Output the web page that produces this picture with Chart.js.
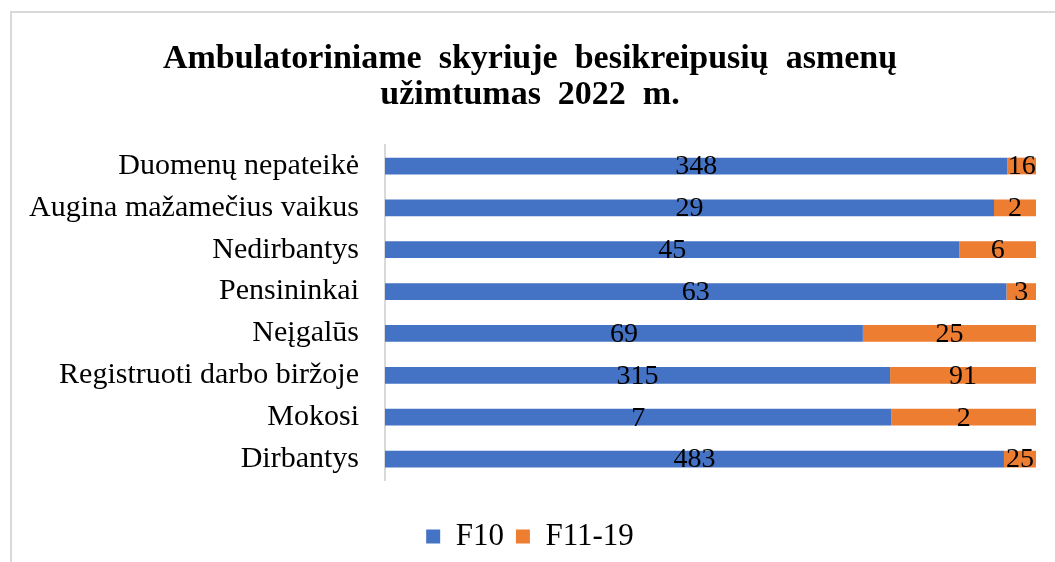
<!DOCTYPE html>
<html>
<head>
<meta charset="utf-8">
<script src="https://cdn.jsdelivr.net/npm/chart.js@4.4.1/dist/chart.umd.min.js"></script>
<style>
  html, body { margin: 0; padding: 0; background: #fff; overflow: hidden; }
  #frame {
    position: absolute; left: 10px; top: 11px; width: 1100px; height: 600px;
    border-left: 2px solid #d9d9d9; border-top: 2px solid #d9d9d9;
  }
  #wrap { position: absolute; left: 0; top: 0; width: 1055px; height: 562px; }
</style>
</head>
<body>
<div id="frame"></div>
<div id="wrap"><canvas id="chart"></canvas></div>
<script>
const categories = [
  'Duomenų nepateikė',
  'Augina mažamečius vaikus',
  'Nedirbantys',
  'Pensininkai',
  'Neįgalūs',
  'Registruoti darbo biržoje',
  'Mokosi',
  'Dirbantys'
]
const f10 = [348, 29, 45, 63, 69, 315, 7, 483]
const f11to19 = [16, 2, 6, 3, 25, 91, 2, 25]
const seriesNames = ['F10', 'F11-19']

const serif = "'Liberation Serif', 'Times New Roman', serif"

// 100% stacked: share of each row total
const totals = f10.map((v, i) => v + f11to19[i])
const share = arr => arr.map((v, i) => v / totals[i] * 100)
const rawSeries = [f10, f11to19]

// raw values written in the middle of each segment
const segmentLabels = {
  id: 'segmentLabels',
  afterDatasetsDraw(chart) {
    const ctx = chart.ctx
    ctx.save()
    ctx.font = '28px ' + serif
    ctx.fillStyle = '#000'
    ctx.textAlign = 'center'
    ctx.textBaseline = 'middle'
    chart.data.datasets.forEach((ds, i) => {
      chart.getDatasetMeta(i).data.forEach((bar, j) => {
        const p = bar.getCenterPoint()
        ctx.fillText(String(rawSeries[i][j]), p.x, p.y + 1)
      })
    })
    ctx.restore()
  }
}

new Chart(document.getElementById('chart'), {
  type: 'bar',
  data: {
    labels: categories,
    datasets: [
      { label: seriesNames[0], data: share(f10), backgroundColor: '#4472C4' },
      { label: seriesNames[1], data: share(f11to19), backgroundColor: '#ED7D31' }
    ]
  },
  options: {
    indexAxis: 'y',
    responsive: true,
    maintainAspectRatio: false,
    animation: false,
    datasets: {
      bar: { barPercentage: 0.4, categoryPercentage: 1, borderWidth: 0 }
    },
    layout: { padding: { left: 24, right: 19, top: 0, bottom: 0 } },
    scales: {
      x: {
        stacked: true,
        min: 0,
        max: 100,
        ticks: { display: false },
        grid: { display: false },
        border: { display: false },
        afterFit(scale) { scale.height = 29 }
      },
      y: {
        stacked: true,
        grid: { display: false },
        border: { display: true, color: '#d9d9d9', width: 2 },
        ticks: { color: '#000', padding: 18, font: { family: serif, size: 30 } },
        afterFit(scale) { scale.width = 361 }
      }
    },
    plugins: {
      title: {
        display: true,
        text: ['Ambulatoriniame  skyriuje  besikreipusių  asmenų', 'užimtumas  2022  m.'],
        color: '#000',
        font: { family: serif, size: 34, weight: 'bold', lineHeight: 1.06 },
        padding: { top: 41, bottom: 32 }
      },
      legend: {
        position: 'bottom',
        labels: {
          color: '#000',
          boxWidth: 14,
          boxHeight: 14,
          padding: 12,
          font: { family: serif, size: 31 }
        }
      },
      tooltip: { enabled: false }
    }
  },
  plugins: [segmentLabels]
})
</script>
</body>
</html>
